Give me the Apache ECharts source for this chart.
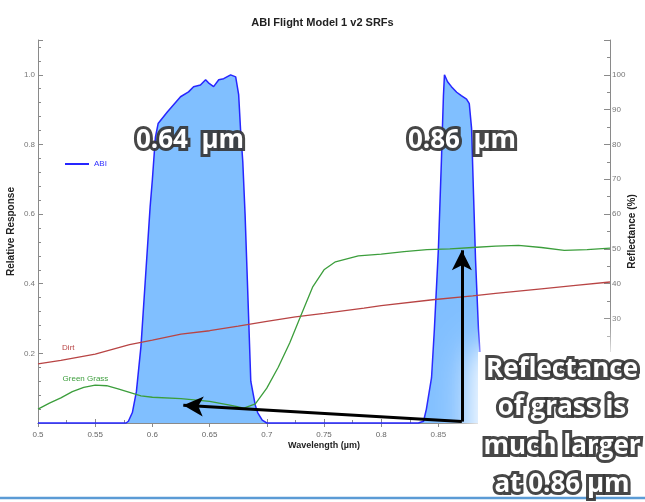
<!DOCTYPE html>
<html><head><meta charset="utf-8">
<script src="https://cdn.jsdelivr.net/npm/echarts@6/dist/echarts.min.js"></script>
<style>html,body{margin:0;padding:0;background:#fff}#c{width:645px;height:502px}</style>
</head><body><div id="c"></div>
<script>
// ABI SRF (relative response), wavelength in µm
const abiWave = [0.500,0.577,0.579,0.5825,0.586,0.590,0.594,0.598,0.600,0.6026,0.605,0.6132,0.6246,0.6316,0.636,0.642,0.6465,0.649,0.6535,0.658,0.6623,0.6684,0.6728,0.6754,0.677,0.679,0.681,0.683,0.686,0.690,0.692,0.696,0.700,
  0.8325,0.837,0.8395,0.844,0.8465,0.850,0.8526,0.8544,0.8553,0.858,0.8614,0.866,0.870,0.8746,0.877,0.879,0.8807,0.8825,0.885,0.888,0.891,0.895,1.000];
const abiResp = [0,0,0.005,0.03,0.09,0.22,0.42,0.62,0.70,0.82,0.86,0.894,0.937,0.951,0.966,0.971,0.986,0.977,0.966,0.986,0.989,1.0,0.994,0.943,0.846,0.751,0.60,0.41,0.12,0.05,0.03,0.008,0,
  0,0.005,0.04,0.13,0.27,0.50,0.75,0.94,1.0,0.98,0.966,0.95,0.94,0.93,0.917,0.846,0.657,0.466,0.27,0.12,0.03,0,0];
// Dirt reflectance (%)
const dirtWave = [0.50,0.52,0.55,0.58,0.60,0.625,0.65,0.675,0.70,0.725,0.75,0.785,0.80,0.845,0.88,0.90,0.94,0.97,1.00];
const dirtRefl = [17.0,18.0,19.8,22.5,23.8,25.5,26.5,27.8,29.2,30.5,31.5,33.0,33.7,35.4,36.5,37.2,38.5,39.5,40.5];
// Green grass reflectance (%)
const grassWave = [0.50,0.51,0.52,0.53,0.54,0.55,0.56,0.57,0.58,0.59,0.60,0.625,0.65,0.67,0.68,0.69,0.70,0.71,0.72,0.73,0.74,0.75,0.76,0.78,0.80,0.82,0.84,0.86,0.88,0.90,0.92,0.94,0.96,0.98,1.00];
const grassRefl = [4.0,5.7,7.2,9.0,10.2,10.9,10.7,9.8,8.8,7.8,7.4,7.0,6.2,5.0,4.3,5.5,10,16,23,31,39,44,46.3,48,48.5,49.2,49.8,50.0,50.4,50.8,51.0,50.4,49.6,49.8,50.2];

const pairs = (a,b) => a.map((v,i)=>[v,b[i]]);
const narrow = "'Liberation Sans Narrow','Arial Narrow','Liberation Sans',sans-serif";
const big = "'Open Sans','Lato',sans-serif";

const chart = echarts.init(document.getElementById('c'));
const axisCommon = {
  axisLine:{show:true,lineStyle:{color:'#8a8a8a',width:1}},
  splitLine:{show:false},
  nameMoveOverlap:false
};
const bigText = {textAlign:'center',textVerticalAlign:'middle',font:`bold 26px ${big}`,fill:'#fff',stroke:'rgba(55,55,55,0.92)',lineWidth:6,strokeFirst:true,shadowBlur:10,shadowColor:'rgba(0,0,0,0.85)'};
chart.setOption({
  animation:false,
  title:{text:'ABI Flight Model 1 v2 SRFs',left:'center',top:12,textStyle:{fontFamily:narrow,fontSize:11,fontWeight:'bold',color:'#222'}},
  legend:{data:[{name:'ABI',icon:'rect'}],left:60,top:155,itemWidth:24,itemHeight:2,textStyle:{color:'#3030ff',fontSize:8,fontFamily:narrow},selectedMode:false},
  grid:{left:38,right:35,top:40,bottom:79,outerBoundsMode:'none',containLabel:false},
  xAxis:[
    Object.assign({type:'value',min:0.5,max:1.0,interval:0.05,position:'bottom',
      axisTick:{inside:true,length:4,lineStyle:{color:'#8a8a8a'}},
      minorTick:{show:true,splitNumber:2,length:3,lineStyle:{color:'#8a8a8a'}},
      axisLabel:{fontSize:8,color:'#666',fontFamily:narrow,margin:8,formatter:v=>v>0.86?'':String(+v.toFixed(2))},
      name:'Wavelength (µm)',nameLocation:'middle',nameGap:18,nameTextStyle:{fontFamily:narrow,fontSize:9,fontWeight:'bold',color:'#222'}},axisCommon),
    Object.assign({type:'value',min:0.5,max:1.0,interval:0.05,position:'top',
      axisTick:{inside:true,length:4,lineStyle:{color:'#8a8a8a'}},axisLabel:{show:false}},axisCommon)
  ],
  yAxis:[
    Object.assign({type:'value',min:0,max:1.1,interval:0.2,position:'left',
      axisTick:{inside:true,length:5,lineStyle:{color:'#8a8a8a'}},
      minorTick:{show:true,splitNumber:5,length:3,lineStyle:{color:'#8a8a8a'}},
      axisLabel:{fontSize:8,color:'#777',fontFamily:narrow,margin:3,formatter:v=>(v===0||v>1.05)?'':v.toFixed(1)},
      name:'Relative Response',nameLocation:'middle',nameRotate:90,nameGap:22,nameTextStyle:{fontFamily:narrow,fontSize:10,fontWeight:'bold',color:'#222'}},axisCommon),
    Object.assign({type:'value',min:0,max:110,interval:10,position:'right',
      axisTick:{inside:true,length:6,lineStyle:{color:'#8a8a8a'}},
      minorTick:{show:true,splitNumber:2,length:3,lineStyle:{color:'#8a8a8a'}},
      axisLabel:{fontSize:8,color:'#777',fontFamily:narrow,margin:2,formatter:v=>(v>=30&&v<=100)?String(v):''},
      name:'Reflectance (%)',nameLocation:'middle',nameRotate:90,nameGap:17,nameTextStyle:{fontFamily:narrow,fontSize:10,fontWeight:'bold',color:'#222'}},axisCommon)
  ],
  series:[
    {name:'ABI',type:'line',xAxisIndex:0,yAxisIndex:0,data:pairs(abiWave,abiResp),symbol:'none',
      lineStyle:{color:'#2626ff',width:1.5},itemStyle:{color:'#2626ff'},areaStyle:{color:'#80bfff',opacity:1},z:2,
      clip:false,
      markLine:{silent:true,symbol:['none','arrow'],symbolSize:[15,20],label:{show:false},
        lineStyle:{color:'#000',width:3,type:'solid'},z:20,
        data:[
          [{coord:[0.8705,0.004]},{coord:[0.8705,0.496]}],
          [{coord:[0.8705,0.004]},{coord:[0.627,0.051]}],
          [{coord:[0.7405,-0.225]},{coord:[0.7405,-0.078]}]
        ]}},
    {name:'Dirt',type:'line',xAxisIndex:0,yAxisIndex:1,data:pairs(dirtWave,dirtRefl),symbol:'none',
      lineStyle:{color:'#b84444',width:1.3},z:3,
      markPoint:{silent:true,symbol:'circle',symbolSize:0,data:[{coord:[0.5265,21.6]}],
        label:{show:true,formatter:'Dirt',color:'#b84444',fontSize:8,fontFamily:narrow,position:'inside'}}},
    {name:'Green Grass',type:'line',xAxisIndex:0,yAxisIndex:1,data:pairs(grassWave,grassRefl),symbol:'none',
      lineStyle:{color:'#3c9e3c',width:1.3},z:3,
      markPoint:{silent:true,symbol:'circle',symbolSize:0,data:[{coord:[0.5415,12.8]}],
        label:{show:true,formatter:'Green Grass',color:'#3c9e3c',fontSize:8,fontFamily:narrow,position:'inside'}}}
  ],
  graphic:[
    {type:'rect',z:10,shape:{x:478,y:352,width:180,height:160},style:{fill:'#fff',shadowBlur:50,shadowColor:'#fff'}},
    {type:'rect',z:10,shape:{x:478,y:352,width:180,height:160},style:{fill:'#fff',shadowBlur:25,shadowColor:'#fff'}},
    {type:'line',z:30,shape:{x1:0,y1:498,x2:645,y2:498},style:{stroke:'#5b9bd5',lineWidth:2.5}},
    {type:'text',z:40,style:Object.assign({text:'0.64  µm',x:190,y:141},bigText)},
    {type:'text',z:40,style:Object.assign({text:'0.86  µm',x:462,y:141},bigText)},
    {type:'text',z:40,style:Object.assign({text:'Reflectance\nof grass is\nmuch larger\nat 0.86 µm',x:562,y:427,lineHeight:38.5},bigText)}
  ]
});
</script></body></html>
